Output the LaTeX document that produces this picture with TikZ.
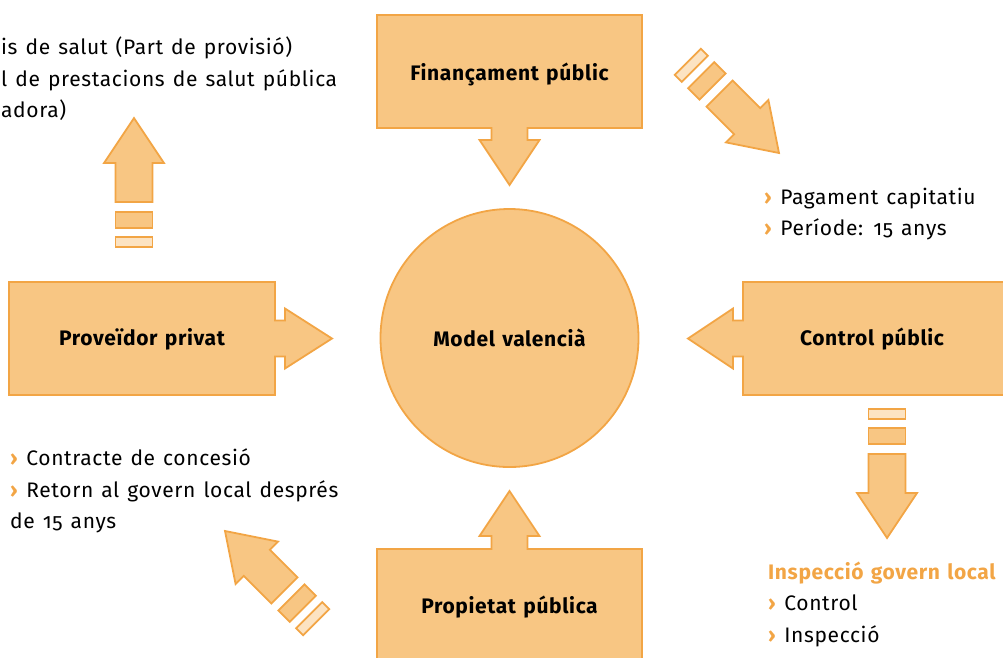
\documentclass[tikz,border=0pt]{standalone}
\usepackage{fontspec}
\setmainfont{Fira Sans}[Numbers=OldStyle,LetterSpace=3,WordSpace=1.3]

\definecolor{boxfill}{HTML}{F8C683}
\definecolor{boxline}{HTML}{F2A545}
\definecolor{palefill}{HTML}{FCE3C2}

\tikzset{
  blockshape/.style={fill=boxfill,draw=boxline,line width=1.8pt,line join=miter},
  paleshape/.style={fill=palefill,draw=boxline,line width=1.8pt},
  boxtext/.style={font=\bfseries\fontsize{21}{24}\selectfont},
  notes/.style={anchor=north west,inner sep=0pt,align=left,
    font=\fontsize{21}{31.5}\selectfont},
}

% orange chevron in front of the list items
\newcommand\chev{{\color{boxline}\textbf{›}}\ }

% arrow with two trailing bars, tip at #1, turned by #2 degrees
\newcommand\tailarrow[2]{%
  \begin{scope}[shift={#1},rotate=#2]
    \path[blockshape] (0,0) -- (-45,30) -- (-45,18.5) -- (-84,18.5)
      -- (-84,-18.5) -- (-45,-18.5) -- (-45,-30) -- cycle;
    \path[blockshape] (-94,-18.5) rectangle (-110,18.5);
    \path[paleshape] (-119,-18.5) rectangle (-129,18.5);
  \end{scope}}

\begin{document}
\begin{tikzpicture}[x=1pt,y=-1pt]
  \useasboundingbox (0,0) rectangle (1003,657);

  % the four boxes, each with its arrow towards the centre
  \path[blockshape] (377,15) -- (642,15) -- (642,128) -- (527.5,128)
    -- (527.5,140) -- (539.5,140) -- (509.5,185) -- (479.5,140)
    -- (491.5,140) -- (491.5,128) -- (377,128) -- cycle;
  \path[blockshape] (9,282) -- (275,282) -- (275,320.5) -- (285,320.5)
    -- (285,308.5) -- (332,338.5) -- (285,368.5) -- (285,356.5)
    -- (275,356.5) -- (275,395) -- (9,395) -- cycle;
  \path[blockshape] (1012,282) -- (743,282) -- (743,320.5) -- (733,320.5)
    -- (733,308.5) -- (688,338.5) -- (733,368.5) -- (733,356.5)
    -- (743,356.5) -- (743,395) -- (1012,395) -- cycle;
  \path[blockshape] (377,665) -- (377,549) -- (491.5,549) -- (491.5,536)
    -- (479.5,536) -- (509.5,491) -- (539.5,536) -- (527.5,536)
    -- (527.5,549) -- (642,549) -- (642,665) -- cycle;

  \node[circle,blockshape,minimum size=258pt,boxtext] (model) at (509.5,338) {Model valencià};

  \node[boxtext] (financ) at (509.5,74) {Finançament públic};
  \node[boxtext] (proveidor) at (142,339) {Proveïdor privat};
  \node[boxtext] (control) at (872,339) {Control públic};
  \node[boxtext] (propietat) at (509.5,607) {Propietat pública};

  % outgoing arrows
  \tailarrow{(134,118)}{90}
  \tailarrow{(779,153)}{-45}
  \tailarrow{(887,538)}{-90}
  \tailarrow{(225,531)}{135}

  % notes
  \node[notes] (serveis) at (1,37) {is de salut (Part de provisió)\\
    l de prestacions de salut pública\\adora)};
  \node[notes] (pagament) at (764,187.5) {\chev Pagament capitatiu\\
    \chev Període: 15 anys};
  \node[notes] (contracte) at (10,448.5) {\chev Contracte de concesió\\
    \chev Retorn al govern local després\\de 15 anys};
  \node[notes,text=boxline,font=\bfseries\fontsize{21}{31.5}\selectfont] (inspeccio) at (768,562) {Inspecció govern local};
  \node[notes] (tasques) at (768,595) {\chev Control\\\chev Inspecció};
\end{tikzpicture}
\end{document}
